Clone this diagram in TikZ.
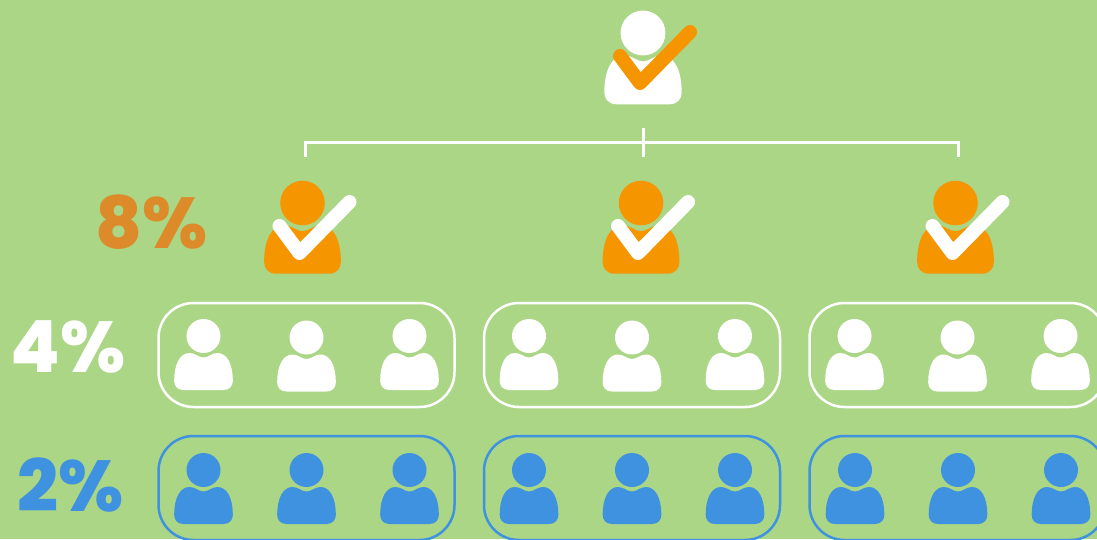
\documentclass[tikz,border=0pt]{standalone}
\usepackage{fontspec}
\usepackage{xcolor}
\usetikzlibrary{positioning}
\newfontfamily\pctfont{Poppins ExtraBold}
\definecolor{pagegreen}{HTML}{ABD686}
\definecolor{markorange}{HTML}{F59500}
\definecolor{pctorange}{HTML}{DD8A2A}
\definecolor{groupblue}{HTML}{3F92DF}
\tikzset{
	personshape/.pic={
		\fill[pic actions] (0,0) circle (17);
		\fill[pic actions] (-20,54) -- (20,54) .. controls (26,54) and (29.3,50) .. (29.3,45) .. controls (29.3,27) and (23,17) .. (14,17) .. controls (8,17) and (5,21.5) .. (0,21.5) .. controls (-5,21.5) and (-8,17) .. (-14,17) .. controls (-23,17) and (-29.3,27) .. (-29.3,45) .. controls (-29.3,50) and (-26,54) .. (-20,54) -- cycle;
	},
	checkshape/.pic={
		\draw[pic actions, line width=14pt, line cap=round, line join=round] (-23,23) -- (-3,50) -- (47,-1);
	},
	groupbox/.style={draw, rounded corners=35pt, line width=2.5pt, minimum width=296pt, minimum height=104pt, inner sep=0pt},
	pct/.style={font=\pctfont\fontsize{72}{72}\selectfont, inner sep=0pt},
	spot/.style={coordinate},
}
\begin{document}
\begin{tikzpicture}[
		x=1pt,
		y=-1pt,
		node distance=103pt,
	]
		\fill[pagegreen] (0,0) rectangle (1097,539);
		\path[use as bounding box, clip] (0,0) rectangle (1097,539);

		\begin{scope}
			\coordinate (lead) at (643,33);
			\pic[fill=white, scale=1.32] at (lead) {personshape};
			\pic[draw=markorange] at (lead) {checkshape};

			\coordinate (stem top) at (643,128);
			\coordinate (stem bottom) at (643,157);
			\coordinate (drop a) at (305,157);
			\coordinate (drop c) at (958,157);
			\coordinate (bar) at (643,142);
			\draw[white, line width=3pt] (stem top) -- (stem bottom);
			\draw[white, line width=3pt] (drop a) -- (drop a|-bar) -- (drop c|-bar) -- (drop c);
		\end{scope}

		\begin{scope}
			\node (pct8) [pct, text=pctorange] at (151.5,222) {8\%};
			\coordinate (lead a) at (302.5,203);
			\coordinate (lead b) at (641,203);
			\coordinate (lead c) at (955.5,203);
			\pic[fill=markorange, scale=1.31] at (lead a) {personshape};
			\pic[draw=white] at (lead a) {checkshape};
			\pic[fill=markorange, scale=1.31] at (lead b) {personshape};
			\pic[draw=white] at (lead b) {checkshape};
			\pic[fill=markorange, scale=1.31] at (lead c) {personshape};
			\pic[draw=white] at (lead c) {checkshape};
		\end{scope}

		\begin{scope}
			\node (pct4) [pct, text=white] at (68,347) {4\%};
			\node (box wa) [groupbox, white] at (306.5,355) {};
			\node (box wb) [groupbox, white] at (632,355) {};
			\node (box wc) [groupbox, white] at (957.5,355) {};
			\node (wa1) [spot] at (203.5,336) {};
			\node (wa2) [spot, right=of wa1, yshift=-1.5pt] {};
			\node (wa3) [spot, right=of wa2, yshift=1.5pt] {};
			\node (wb1) [spot] at (529,336) {};
			\node (wb2) [spot, right=of wb1, yshift=-1.5pt] {};
			\node (wb3) [spot, right=of wb2, yshift=1.5pt] {};
			\node (wc1) [spot] at (854.5,336) {};
			\node (wc2) [spot, right=of wc1, yshift=-1.5pt] {};
			\node (wc3) [spot, right=of wc2, yshift=1.5pt] {};
			\pic[fill=white] at (wa1) {personshape};
			\pic[fill=white] at (wa2) {personshape};
			\pic[fill=white] at (wa3) {personshape};
			\pic[fill=white] at (wb1) {personshape};
			\pic[fill=white] at (wb2) {personshape};
			\pic[fill=white] at (wb3) {personshape};
			\pic[fill=white] at (wc1) {personshape};
			\pic[fill=white] at (wc2) {personshape};
			\pic[fill=white] at (wc3) {personshape};
		\end{scope}

		\begin{scope}
			\node (pct2) [pct, text=groupblue] at (71,485) {2\%};
			\node (box ba) [groupbox, groupblue] at (306.5,488) {};
			\node (box bb) [groupbox, groupblue] at (632,488) {};
			\node (box bc) [groupbox, groupblue] at (957.5,488) {};
			\node (ba1) [spot] at (203.5,470) {};
			\node (ba2) [spot, right=of ba1] {};
			\node (ba3) [spot, right=of ba2] {};
			\node (bb1) [spot] at (529,470) {};
			\node (bb2) [spot, right=of bb1] {};
			\node (bb3) [spot, right=of bb2] {};
			\node (bc1) [spot] at (855,470) {};
			\node (bc2) [spot, right=of bc1] {};
			\node (bc3) [spot, right=of bc2] {};
			\pic[fill=groupblue] at (ba1) {personshape};
			\pic[fill=groupblue] at (ba2) {personshape};
			\pic[fill=groupblue] at (ba3) {personshape};
			\pic[fill=groupblue] at (bb1) {personshape};
			\pic[fill=groupblue] at (bb2) {personshape};
			\pic[fill=groupblue] at (bb3) {personshape};
			\pic[fill=groupblue] at (bc1) {personshape};
			\pic[fill=groupblue] at (bc2) {personshape};
			\pic[fill=groupblue] at (bc3) {personshape};
		\end{scope}
	\end{tikzpicture}
\end{document}
